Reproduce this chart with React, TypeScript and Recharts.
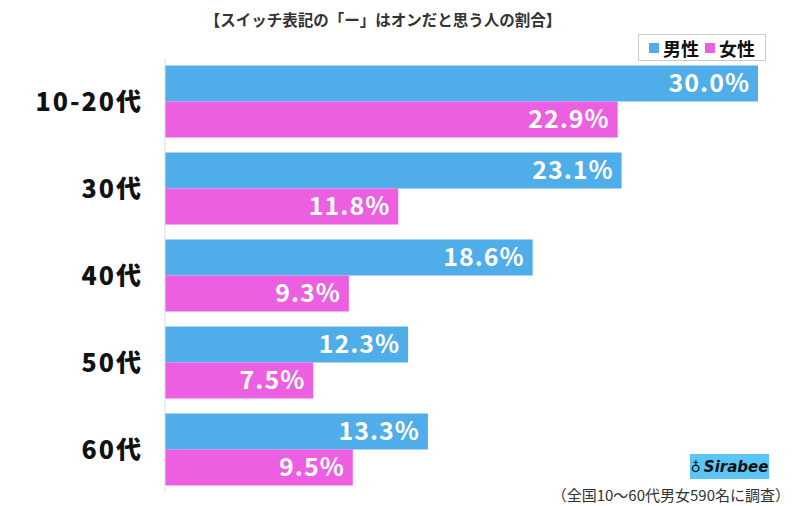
import React from "react";
import { BarChart, Bar, XAxis, YAxis, LabelList } from "recharts";

const categories = ["10-20代", "30代", "40代", "50代", "60代"];
const male = [30.0, 23.1, 18.6, 12.3, 13.3];
const female = [22.9, 11.8, 9.3, 7.5, 9.5];
const seriesNames = ["男性", "女性"];
const title = "【スイッチ表記の「ー」はオンだと思う人の割合】";
const footnote = "（全国10～60代男女590名に調査）";

const data = categories.map((c, i) => ({ name: c, male: male[i], female: female[i] }));

const BLUE = "#4FADE9";
const PINK = "#EC5FE0";
const FONT = "'Noto Sans CJK JP', 'Noto Sans', sans-serif";

const YTick = (props: any) => {
  const { y, payload } = props;
  return (
    <text x={143} y={y} dy={9} textAnchor="end" fontSize={25} fontWeight={900} fill="#111" fontFamily={FONT} letterSpacing={2}>
      {payload.value}
    </text>
  );
};

const fmt = (v: number) => v.toFixed(1) + "%";

export default function App() {
  return (
    <div style={{ position: "absolute", left: 0, top: 0, width: 798, height: 506, background: "#fff", fontFamily: FONT }}>
      <div style={{ position: "absolute", left: 0, width: 766, top: 8, textAlign: "center", fontSize: 15.5, fontWeight: 700, color: "#333" }}>
        {title}
      </div>
      <div style={{ position: "absolute", left: 638, top: 34, width: 128, height: 27, border: "1px solid #ccc", boxSizing: "border-box", display: "flex", alignItems: "center", justifyContent: "center", gap: 6, fontSize: 18, fontWeight: 700, color: "#111" }}>
        <span style={{ display: "flex", alignItems: "center" }}>
          <span style={{ width: 10, height: 10, background: BLUE, display: "inline-block", marginRight: 4 }} />
          {seriesNames[0]}
        </span>
        <span style={{ display: "flex", alignItems: "center" }}>
          <span style={{ width: 10, height: 10, background: PINK, display: "inline-block", marginRight: 4 }} />
          {seriesNames[1]}
        </span>
      </div>
      <BarChart
        width={798}
        height={506}
        data={data}
        layout="vertical"
        margin={{ top: 58, right: 40, bottom: 13, left: 0 }}
        barGap={0}
        barCategoryGap="8.5%"
      >
        <XAxis type="number" domain={[0, 30]} hide />
        <YAxis
          type="category"
          dataKey="name"
          width={165}
          tick={<YTick />}
          tickLine={false}
          axisLine={{ stroke: "#ddd", strokeWidth: 1 }}
        />
        <Bar dataKey="male" fill={BLUE} isAnimationActive={false}>
          <LabelList dataKey="male" position="insideRight" offset={8} formatter={fmt as any} fill="#fff" fontSize={25} fontWeight={700} fontFamily={FONT} letterSpacing={1} />
        </Bar>
        <Bar dataKey="female" fill={PINK} isAnimationActive={false}>
          <LabelList dataKey="female" position="insideRight" offset={8} formatter={fmt as any} fill="#fff" fontSize={25} fontWeight={700} fontFamily={FONT} letterSpacing={1} />
        </Bar>
      </BarChart>
      <div style={{ position: "absolute", left: 690, top: 454, width: 79, height: 25, background: "#5BC6F5", display: "flex", alignItems: "center", justifyContent: "center", fontSize: 15, fontWeight: 900, fontStyle: "italic", color: "#111", fontFamily: "'DejaVu Sans', sans-serif" }}>
        <span style={{ fontSize: 14, marginRight: 3 }}>♁</span>Sirabee
      </div>
      <div style={{ position: "absolute", right: 8, top: 484, fontSize: 15, color: "#333" }}>{footnote}</div>
    </div>
  );
}
